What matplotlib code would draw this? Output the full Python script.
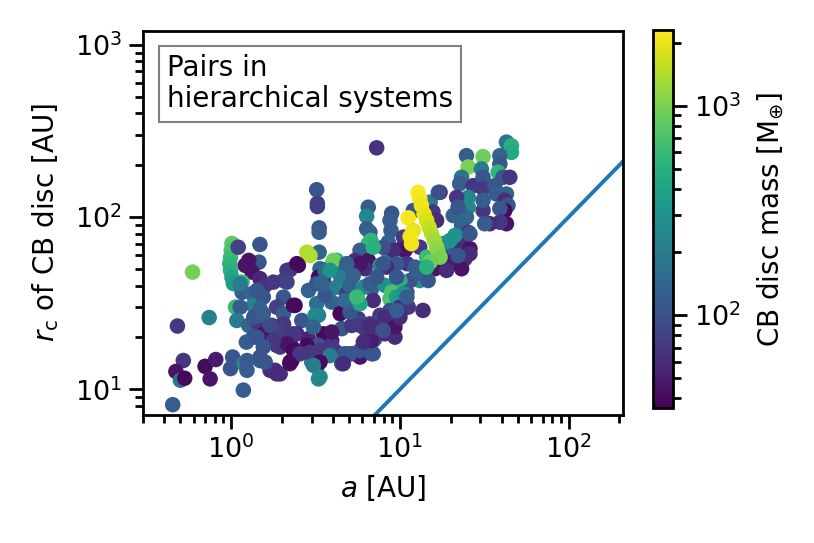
import numpy as np
import matplotlib
matplotlib.use("Agg")
import matplotlib.pyplot as plt
from matplotlib.colors import LogNorm

# ==========================================
# DATA
# ==========================================

# semi-major axis of the pair [AU]
a_au = [
    0.59, 1.01, 1.00, 0.99, 0.98, 0.99, 1.01, 1.03, 1.10, 1.48,
    1.46, 1.21, 1.33, 1.48, 1.59, 1.16, 1.16, 1.33, 1.45, 1.35,
    1.06, 1.13, 1.08, 1.43, 1.27, 1.45, 1.50, 1.35, 1.23, 0.74,
    0.48, 0.52, 0.47, 0.50, 0.53, 0.70, 0.75, 0.81, 1.02, 0.99,
    1.19, 1.24, 1.24, 1.48, 1.18, 0.45, 1.70,
    7.28, 3.21, 3.24, 3.24, 3.32, 3.32, 3.32, 2.93, 2.81, 2.50,
    2.23, 6.49, 6.35, 6.35, 6.64, 6.49, 6.73, 5.80, 6.49, 8.93,
    8.73, 8.85, 8.53, 8.61, 7.62, 10.2, 4.22, 3.94, 4.73, 3.36,
    3.29, 5.42, 6.21,
    1.78, 2.04, 2.39, 2.62, 2.87, 3.21, 3.29, 3.52, 3.94, 4.22,
    4.62, 4.52, 4.84, 5.18, 5.66, 6.80, 6.95, 7.62, 8.73, 9.13,
    8.15, 8.93, 10.0, 1.74, 2.00, 2.09, 2.45, 1.95, 2.29, 2.87,
    3.52, 3.94, 4.52, 4.22, 3.29, 3.36, 3.00, 2.23, 1.82, 1.95,
    3.21, 3.29, 4.73, 5.18, 5.80, 6.80, 6.21, 7.11, 6.21, 7.28,
    7.79, 5.18, 5.80, 4.52, 3.94, 1.59,
    3.14, 3.07, 3.94, 2.34, 2.04, 1.74, 1.55, 1.86, 2.14, 2.34,
    2.81, 2.93, 3.36, 3.85, 3.36, 2.29, 2.56, 3.07, 4.52, 5.06,
    6.95, 5.80, 6.64, 9.13, 8.15, 10.0, 9.13, 4.42, 5.06, 5.80,
    5.55, 1.48, 1.48, 1.13, 1.55, 1.48, 1.36, 1.42, 3.60, 4.42,
    5.06, 3.85, 4.73, 3.60,
    24.8, 31.1, 25.4, 30.4, 42.8, 45.8, 45.8, 39.1, 39.1, 38.2,
    40.8, 44.8, 23.2, 22.6, 27.2, 31.1, 31.1, 36.5, 37.3, 42.8,
    41.8, 43.7, 41.8, 39.1, 42.8, 39.1, 34.1, 31.1, 31.1, 31.8,
    25.4, 25.4, 24.8, 23.2, 21.7, 20.7, 22.1, 25.4, 23.2, 20.7,
    23.2, 26.0, 24.3, 21.2, 18.9, 18.0, 19.8, 17.3, 15.1, 15.7,
    16.5, 12.0, 10.5, 11.0, 13.1, 14.4, 15.1, 17.3, 19.8, 16.9,
    16.1, 18.9, 23.2, 26.0, 22.1, 21.2, 13.1, 14.7, 13.7, 10.7,
    9.13, 7.96, 11.0, 9.56, 12.3, 8.34, 11.5, 10.0, 8.93, 11.0,
    9.56, 10.0, 8.73, 11.2, 8.15, 9.13, 8.15, 9.34, 26.0,
    1.27, 2.14, 2.45, 3.21, 3.44, 4.03, 3.85, 5.80, 6.95, 7.96,
    9.56, 10.5, 12.6, 2.14, 2.04, 1.86, 2.04, 2.34, 2.04, 1.86,
    1.70, 1.78, 1.55, 3.36, 2.23, 1.86, 4.62, 5.80, 6.95, 6.80,
    6.07, 6.64, 7.96, 9.34, 10.0, 9.56, 11.0, 7.96, 1.42, 1.55,
    6.07, 5.55, 6.64, 7.28, 5.29, 4.84,
    12.8, 13.1, 13.4, 13.9, 14.4, 14.9, 15.4, 16.0, 16.5, 16.9,
    17.3, 15.1, 14.4, 11.2, 12.0, 11.7, 11.5,
]

# characteristic radius of the circumbinary disc [AU]
rc_au = [
    47.9, 70.2, 64.0, 58.2, 53.7, 49.0, 44.6, 41.1, 66.8, 69.3,
    54.7, 52.4, 47.9, 43.9, 40.1, 41.9, 36.6, 35.9, 34.3, 30.7,
    30.0, 30.0, 25.1, 26.9, 23.5, 24.0, 20.5, 20.1, 18.8, 26.1,
    23.3, 14.7, 12.7, 11.3, 11.6, 13.6, 11.5, 14.9, 15.4, 13.2,
    14.1, 14.7, 12.9, 14.7, 9.9, 8.15, 12.9,
    252, 144, 120, 115, 86.5, 81.6, 62.5, 59.8, 62.5, 52.4,
    49.4, 114, 101, 85.5, 81.6, 70.0, 73.1, 64.0, 56.0, 105,
    95.5, 83.6, 71.5, 61.2, 52.4, 65.5, 56.0, 52.4, 51.2, 50.1,
    44.8, 56.0, 50.1,
    41.9, 42.8, 30.7, 25.1, 37.5, 31.4, 26.9, 42.8, 32.1, 39.2,
    42.8, 29.4, 35.9, 30.0, 25.7, 38.4, 32.8, 26.9, 33.6, 37.5,
    40.1, 26.9, 28.7, 23.5, 23.5, 20.5, 21.0, 17.6, 17.6, 19.7,
    21.0, 19.2, 22.5, 16.4, 18.0, 15.7, 14.4, 14.4, 12.9, 12.3,
    13.5, 11.5, 16.1, 16.1, 15.4, 16.1, 19.2, 19.7, 22.5, 24.0,
    22.5, 23.5, 24.0, 14.4, 18.0, 14.4,
    26.9, 23.0, 21.5, 21.0, 23.5, 22.5, 21.0, 18.0, 18.4, 16.8,
    18.0, 16.4, 16.8, 15.7, 14.4, 14.7, 16.1, 13.8, 14.1, 16.1,
    19.2, 23.5, 24.0, 23.0, 26.2, 27.5, 34.3, 27.5, 28.1, 31.4,
    35.1, 15.4, 26.9, 41.0, 34.3, 29.4, 26.2, 20.1, 49.0, 45.8,
    40.1, 37.5, 32.8, 35.1,
    227, 224, 195, 190, 272, 259, 237, 227, 203, 182,
    170, 170, 170, 156, 152, 170, 146, 152, 136, 136,
    125, 117, 109, 112, 91.4, 93.3, 91.4, 109, 125, 91.4,
    130, 114, 99.8, 89.3, 130, 102, 114, 81.6, 76.4, 70.0,
    68.4, 65.5, 57.3, 59.8, 61.2, 70.0, 73.1, 139, 122, 107,
    95.5, 109, 76.4, 66.8, 66.8, 58.5, 52.4, 61.2, 54.7, 139,
    50.1, 49.0, 50.1, 61.2, 59.8, 78.2, 42.8, 42.8, 28.7, 64.0,
    64.0, 66.8, 53.6, 53.6, 51.2, 51.2, 42.8, 42.8, 36.6, 36.6,
    34.3, 30.0, 28.7, 30.0, 26.2, 23.0, 21.0, 20.1, 80.0,
    56.0, 49.0, 53.6, 41.0, 41.0, 56.0, 49.0, 53.6, 66.8, 53.6,
    44.8, 35.9, 46.9, 41.9, 34.3, 30.0, 27.5, 30.7, 24.0, 22.0,
    23.5, 19.2, 17.6, 11.8, 14.1, 12.3, 14.1, 16.8, 16.1, 19.2,
    18.8, 23.0, 24.0, 23.0, 26.2, 28.7, 34.3, 22.0, 37.5, 27.5,
    39.2, 34.3, 41.0, 44.8, 45.8, 53.6,
    139, 128, 117, 104, 95.5, 87.3, 80.0, 73.1, 66.8, 62.5,
    58.5, 54.7, 51.2, 98.9, 83.6, 70.0, 77.1,
]

# circumbinary disc mass [Earth masses]
mass = [
    950, 800, 700, 600, 550, 500, 400, 350, 80, 110,
    110, 45, 45, 55, 65, 600, 120, 140, 150, 220,
    600, 120, 200, 110, 130, 70, 45, 110, 120, 220,
    70, 70, 45, 170, 40, 40, 45, 50, 110, 110,
    250, 120, 120, 120, 120, 120, 60,
    65, 110, 75, 75, 110, 120, 130, 1400, 1400, 40,
    60, 120, 250, 120, 130, 600, 550, 130, 45, 110,
    120, 120, 130, 230, 250, 45, 500, 350, 150, 140,
    40, 60, 60,
    70, 70, 40, 110, 130, 170, 220, 65, 130, 200,
    250, 130, 70, 110, 70, 130, 60, 70, 700, 650,
    300, 60, 120, 65, 100, 70, 60, 70, 45, 55,
    40, 45, 110, 70, 100, 60, 200, 40, 60, 60,
    45, 250, 110, 70, 45, 110, 110, 120, 70, 110,
    60, 70, 100, 110, 70, 110,
    250, 130, 45, 70, 70, 70, 45, 70, 45, 40,
    40, 70, 70, 200, 40, 40, 70, 200, 110, 110,
    110, 70, 70, 40, 110, 70, 800, 40, 110, 400,
    800, 110, 110, 200, 110, 130, 110, 110, 150, 200,
    130, 200, 150, 110,
    120, 900, 1000, 200, 170, 500, 450, 130, 110, 550,
    110, 70, 180, 120, 70, 110, 70, 110, 120, 130,
    60, 110, 40, 110, 45, 70, 60, 70, 120, 120,
    250, 250, 150, 130, 70, 130, 110, 70, 110, 250,
    60, 45, 60, 110, 120, 300, 300, 70, 200, 70,
    60, 110, 70, 50, 70, 600, 600, 60, 50, 100,
    45, 60, 45, 60, 110, 300, 300, 110, 60, 45,
    60, 100, 70, 110, 120, 60, 100, 500, 700, 110,
    350, 60, 100, 70, 60, 110, 60, 60, 110,
    45, 70, 40, 110, 130, 900, 300, 45, 500, 110,
    110, 300, 120, 80, 110, 80, 120, 40, 70, 80,
    90, 70, 110, 250, 40, 60, 60, 110, 110, 50,
    60, 60, 60, 45, 60, 120, 120, 100, 110, 120,
    250, 600, 120, 110, 130, 130,
    2300, 2200, 2100, 2000, 1800, 1600, 1450, 1300, 1200, 1100,
    1000, 900, 500, 2200, 2000, 2100, 2100,
]

# one-to-one reference line r_c = a
line_au = [0.3, 210]

x_ticks = [1, 10, 100]
y_ticks = [10, 100, 1000]

# ==========================================
# FIGURE
# ==========================================

fig = plt.figure(figsize=(8.14, 5.43), dpi=100)

ax = fig.add_axes([143 / 814, 1 - 415 / 543, 480 / 814, 384 / 543])
cax = fig.add_axes([653 / 814, 1 - 408 / 543, 20 / 814, 378 / 543])

sc = ax.scatter(
    a_au,
    rc_au,
    c=mass,
    cmap="viridis",
    norm=LogNorm(vmin=36, vmax=2300),
    s=125,
    linewidths=0,
)

ax.plot(line_au, line_au, color="#1f77b4", lw=2.8)

ax.set_xscale("log")
ax.set_yscale("log")
ax.set_xlim(0.3, 210)
ax.set_ylim(7.1, 1200)
ax.set_xticks(x_ticks)
ax.set_yticks(y_ticks)

ax.set_xlabel(r"$a$ [AU]", fontsize=20, labelpad=6)
ax.set_ylabel(r"$r_\mathrm{c}$ of CB disc [AU]", fontsize=20, labelpad=10)

ax.tick_params(which="major", length=10, width=2, labelsize=19.5, pad=5)
ax.tick_params(which="minor", length=5.5, width=2)
for sp in ax.spines.values():
    sp.set_linewidth(2)

ax.text(
    0.05,
    0.94,
    "Pairs in\nhierarchical systems",
    transform=ax.transAxes,
    fontsize=20,
    va="top",
    ha="left",
    linespacing=1.15,
    bbox=dict(boxstyle="square,pad=0.3", facecolor="white", edgecolor="gray", lw=1.5),
)

# ==========================================
# COLORBAR
# ==========================================

cb = fig.colorbar(sc, cax=cax)
cb.set_label(r"CB disc mass [$\mathrm{M}_{\oplus}$]", fontsize=20, labelpad=10)
cb.outline.set_linewidth(2)
cax.tick_params(which="major", length=10, width=2, labelsize=19.5, pad=5)
cax.tick_params(which="minor", length=5.5, width=2)

fig.savefig("out.png", dpi=100)
